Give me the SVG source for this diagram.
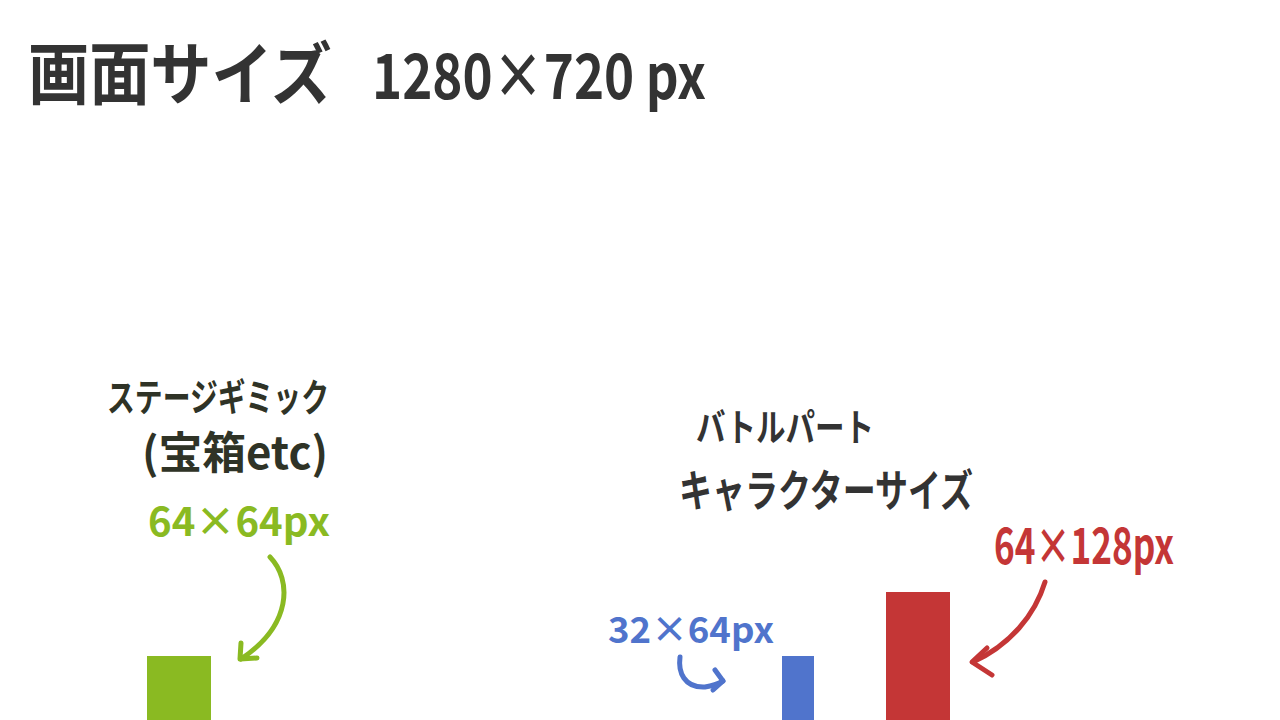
<svg xmlns="http://www.w3.org/2000/svg" width="1280" height="720" viewBox="0 0 1280 720">
<style>
.t{font-family:"Noto Sans CJK JP","Noto Sans",sans-serif;font-weight:700}
.dk{fill:#333333}
.g{fill:#8aba22}.gs{stroke:#8aba22}
.b{fill:#5074cc}.bs{stroke:#5074cc}
.r{fill:#c43636}.rs{stroke:#c43636}
.arr{fill:none;stroke-width:5;stroke-linecap:round;stroke-linejoin:round}
</style>
<rect width="1280" height="720" fill="#ffffff"/>
<g id="title">
<text class="t dk" x="28" y="99" font-size="68" font-weight="500" textLength="304" lengthAdjust="spacingAndGlyphs">画面サイズ</text>
<text class="t dk" x="372" y="99" font-size="62" font-weight="500" textLength="334" lengthAdjust="spacingAndGlyphs">1280×720 px</text>
</g>
<g id="gimmick-label">
<text class="t" x="107" y="411" font-size="38" fill="#2f3326" textLength="222" lengthAdjust="spacingAndGlyphs">ステージギミック</text>
<text class="t" x="142" y="469" font-size="44" fill="#2f3326" textLength="186" lengthAdjust="spacingAndGlyphs">(宝箱etc)</text>
<text class="t g" x="148" y="536" font-size="40" textLength="182" lengthAdjust="spacingAndGlyphs">64×64px</text>
</g>
<g id="gimmick-box"><rect x="147" y="656" width="64" height="64" class="g"/></g>
<g id="battle-label">
<text class="t dk" x="696" y="441" font-size="38" font-weight="500" textLength="178" lengthAdjust="spacingAndGlyphs">バトルパート</text>
<text class="t dk" x="679" y="507" font-size="44" font-weight="500" textLength="294" lengthAdjust="spacingAndGlyphs">キャラクターサイズ</text>
</g>
<g id="small-char">
<text class="t b" x="608" y="643" font-size="36" textLength="166" lengthAdjust="spacingAndGlyphs">32×64px</text>
<rect x="782" y="656" width="32" height="64" class="b"/>
</g>
<g id="large-char">
<text class="t r" x="994" y="564" font-size="50" textLength="180" lengthAdjust="spacingAndGlyphs">64×128px</text>
<rect x="886" y="592" width="64" height="128" class="r"/>
</g>
<g id="connectors">
<path class="arr gs" d="M270 557 C292 580 292 625 241 659"/>
<path class="arr gs" d="M241 643 L240 659 L257 658"/>
<path class="arr bs" d="M680 657 C678 672 684 688 705 687 C712 686 718 684 723 681"/>
<path class="arr bs" d="M715 670 L723 681 L713 690"/>
<path class="arr rs" d="M1045 582 C1035 615 1010 645 973 662"/>
<path class="arr rs" d="M987 648 L972 662 L992 675"/>
</g>
</svg>
